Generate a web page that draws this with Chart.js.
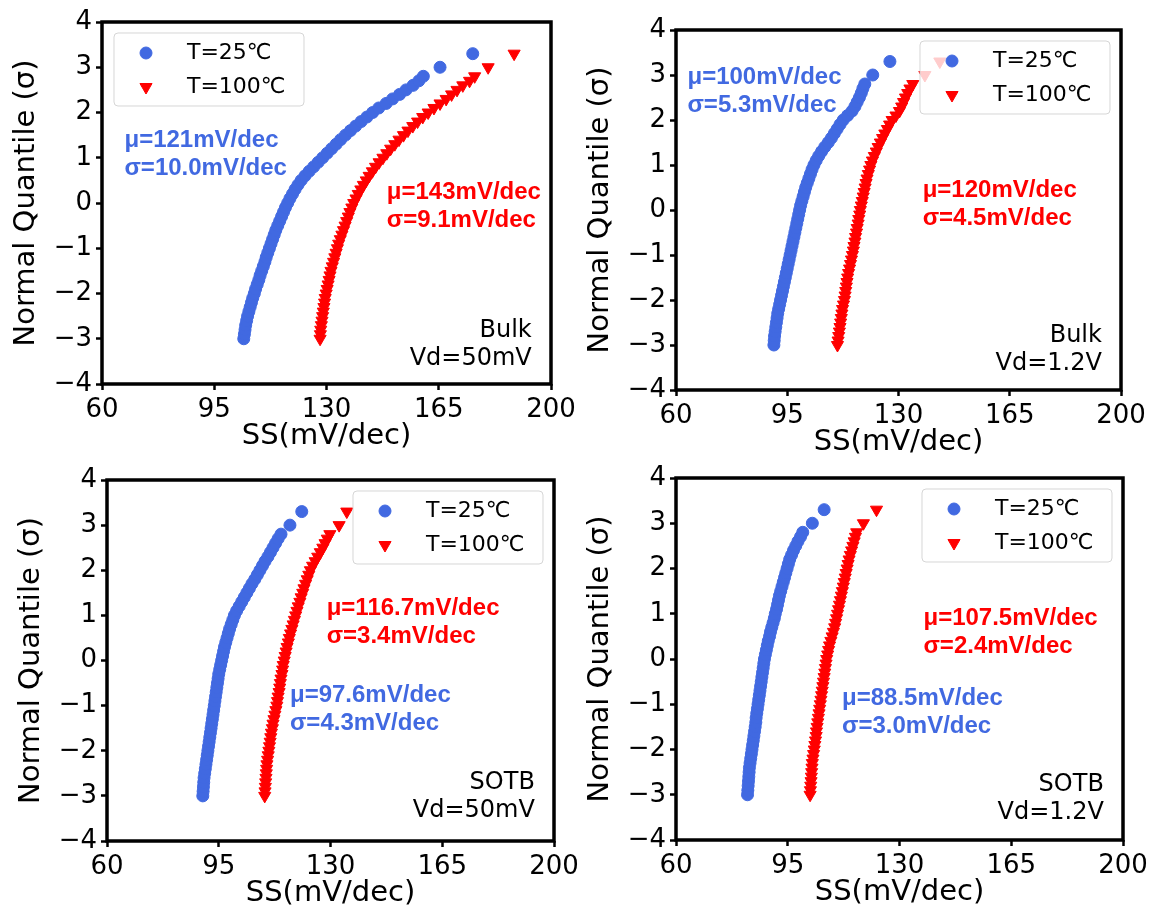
<!DOCTYPE html>
<html>
<head>
<meta charset="utf-8">
<title>SS normal quantile plots</title>
<script src="https://cdn.jsdelivr.net/npm/chart.js@4.4.1/dist/chart.umd.min.js"></script>
<style>
  body { margin: 0; background: #fff; }
  #fig { position: relative; width: 1158px; height: 918px; overflow: hidden; }
  #fig canvas { position: absolute; }
</style>
</head>
<body>
<div id="fig"></div>
<script>
// normal quantile (sigma) of each sorted sample
const quantiles = [
  -3.0, -2.9, -2.8, -2.7, -2.6, -2.5, -2.4, -2.3, -2.2, -2.1,
  -2.0, -1.9, -1.8, -1.7, -1.6, -1.5, -1.4, -1.3, -1.2, -1.1,
  -1.0, -0.9, -0.8, -0.7, -0.6, -0.5, -0.4, -0.3, -0.2, -0.1,
  0.0, 0.1, 0.2, 0.3, 0.4, 0.5, 0.6, 0.7, 0.8, 0.9,
  1.0, 1.1, 1.2, 1.3, 1.4, 1.5, 1.6, 1.7, 1.8, 1.9,
  2.0, 2.1, 2.2, 2.3, 2.4, 2.5, 2.6, 2.7, 2.8,
  3.0, 3.3
];

// SS (mV/dec), Bulk, Vd=50mV
const bulkLowVd25 = [
  104.2, 104.4, 104.6, 104.8, 105.1, 105.4, 105.8, 106.2, 106.6, 107.0,
  107.5, 107.9, 108.4, 108.9, 109.3, 109.8, 110.3, 110.8, 111.2, 111.7,
  112.2, 112.7, 113.2, 113.7, 114.2, 114.8, 115.4, 116.0, 116.6, 117.2,
  117.9, 118.6, 119.4, 120.2, 121.1, 122.1, 123.3, 124.6, 126.0, 127.4,
  128.8, 130.2, 131.6, 133.0, 134.4, 135.9, 137.5, 139.1, 140.8, 142.6,
  144.4, 146.3, 148.6, 150.6, 152.8, 154.8, 157.0, 158.8, 160.2,
  165.4, 175.6
];
const bulkLowVd100 = [
  128.0, 128.1, 128.2, 128.4, 128.6, 128.8, 129.0, 129.2, 129.4, 129.6,
  129.9, 130.2, 130.5, 130.8, 131.1, 131.4, 131.8, 132.2, 132.6, 133.0,
  133.4, 133.8, 134.3, 134.8, 135.3, 135.8, 136.3, 136.8, 137.3, 137.9,
  138.5, 139.2, 139.9, 140.7, 141.5, 142.4, 143.3, 144.3, 145.3, 146.4,
  147.6, 148.8, 150.0, 151.3, 152.6, 154.0, 155.4, 156.9, 158.4, 160.0,
  161.7, 163.5, 165.4, 167.3, 169.0, 170.7, 172.5, 174.6, 176.2,
  180.4, 188.5
];

// Bulk, Vd=1.2V
const bulkHighVd25 = [
  90.8, 90.9, 91.0, 91.2, 91.4, 91.6, 91.8, 92.0, 92.3, 92.6,
  92.9, 93.2, 93.5, 93.8, 94.1, 94.4, 94.7, 95.0, 95.3, 95.6,
  95.9, 96.2, 96.5, 96.8, 97.1, 97.4, 97.7, 98.0, 98.3, 98.6,
  98.9, 99.2, 99.6, 100.0, 100.4, 100.8, 101.3, 101.8, 102.3, 102.8,
  103.4, 104.1, 104.9, 105.8, 106.8, 107.9, 108.9, 109.8, 110.7, 111.6,
  112.6, 114.0, 115.4, 116.3, 117.0, 117.7, 118.3, 118.8, 119.4,
  121.9, 127.3
];
const bulkHighVd100 = [
  110.8, 111.0, 111.2, 111.4, 111.6, 111.8, 112.0, 112.2, 112.4, 112.7,
  113.0, 113.2, 113.4, 113.6, 113.8, 114.0, 114.3, 114.6, 114.9, 115.2,
  115.5, 115.8, 116.0, 116.3, 116.5, 116.8, 117.0, 117.3, 117.5, 117.8,
  118.0, 118.3, 118.6, 118.9, 119.2, 119.5, 119.8, 120.1, 120.5, 120.9,
  121.3, 121.8, 122.4, 123.0, 123.6, 124.3, 125.0, 125.7, 126.5, 127.2,
  128.0, 129.2, 130.3, 131.0, 131.6, 132.2, 132.9, 133.6, 134.5,
  138.3, 143.0
];

// SOTB, Vd=50mV
const sotbLowVd25 = [
  90.0, 90.1, 90.2, 90.3, 90.4, 90.6, 90.8, 91.0, 91.2, 91.4,
  91.6, 91.8, 92.0, 92.2, 92.4, 92.6, 92.8, 93.0, 93.2, 93.4,
  93.6, 93.8, 94.0, 94.2, 94.4, 94.6, 94.8, 95.0, 95.3, 95.6,
  95.9, 96.2, 96.5, 96.8, 97.2, 97.6, 98.0, 98.4, 98.9, 99.4,
  99.9, 100.6, 101.4, 102.2, 103.0, 103.8, 104.6, 105.4, 106.3, 107.1,
  107.9, 108.7, 109.5, 110.4, 111.2, 112.0, 112.8, 113.6, 114.5,
  117.3, 121.0
];
const sotbLowVd100 = [
  109.4, 109.5, 109.6, 109.7, 109.8, 109.9, 110.0, 110.1, 110.3, 110.5,
  110.7, 110.9, 111.1, 111.3, 111.5, 111.8, 112.0, 112.3, 112.6, 112.9,
  113.2, 113.4, 113.6, 113.9, 114.1, 114.3, 114.5, 114.8, 115.0, 115.2,
  115.5, 115.8, 116.1, 116.4, 116.8, 117.1, 117.5, 117.9, 118.3, 118.7,
  119.1, 119.5, 119.9, 120.4, 120.8, 121.3, 121.7, 122.2, 122.7, 123.2,
  123.7, 124.4, 125.2, 126.0, 126.8, 127.6, 128.3, 129.0, 129.8,
  132.7, 135.1
];

// SOTB, Vd=1.2V
const sotbHighVd25 = [
  82.4, 82.5, 82.6, 82.7, 82.8, 82.9, 83.0, 83.2, 83.4, 83.6,
  83.8, 84.0, 84.2, 84.4, 84.6, 84.8, 85.0, 85.1, 85.3, 85.5,
  85.7, 85.9, 86.1, 86.3, 86.5, 86.7, 86.9, 87.1, 87.3, 87.5,
  87.7, 88.0, 88.3, 88.6, 88.9, 89.3, 89.6, 90.0, 90.4, 90.8,
  91.1, 91.5, 91.8, 92.1, 92.4, 92.8, 93.2, 93.6, 94.0, 94.4,
  94.8, 95.2, 95.6, 96.2, 96.8, 97.5, 98.2, 99.0, 99.7,
  102.7, 106.4
];
const sotbHighVd100 = [
  102.0, 102.1, 102.2, 102.3, 102.4, 102.5, 102.6, 102.7, 102.9, 103.1,
  103.3, 103.5, 103.7, 103.9, 104.0, 104.2, 104.4, 104.6, 104.8, 105.0,
  105.2, 105.4, 105.6, 105.8, 106.0, 106.2, 106.4, 106.6, 106.8, 107.0,
  107.2, 107.5, 107.8, 108.1, 108.5, 108.9, 109.3, 109.7, 110.0, 110.3,
  110.6, 110.9, 111.2, 111.5, 111.8, 112.1, 112.4, 112.7, 113.0, 113.3,
  113.6, 113.9, 114.2, 114.6, 115.0, 115.4, 115.8, 116.2, 116.6,
  118.7, 122.8
];

const seriesLabels = ['T=25\u2103', 'T=100\u2103'];
const xTicks = [60, 95, 130, 165, 200];
const yTicks = [-4, -3, -2, -1, 0, 1, 2, 3, 4];

const BLUE = '#4169e1';
const RED = '#ff0000';

// axis box sizes around each plot area (px)
const AXIS_W = 100, AXIS_H = 80, PAD_T = 22, PAD_R = 30;

const panels = [
  {
    area: { left: 102, top: 22, right: 551, bottom: 384 },
    blue: bulkLowVd25, red: bulkLowVd100, legend: 'left',
    notes: [
      { lines: ['\u03bc=121mV/dec', '\u03c3=10.0mV/dec'], color: BLUE, bold: true, x: 67, y: 1.38 },
      { lines: ['\u03bc=143mV/dec', '\u03c3=9.1mV/dec'], color: RED, bold: true, x: 148.8, y: 0.23 },
      { lines: ['Bulk', 'Vd=50mV'], color: '#000', align: 'right', x: 194, y: -2.82 }
    ]
  },
  {
    area: { left: 676, top: 29.5, right: 1121, bottom: 389.5 },
    blue: bulkHighVd25, red: bulkHighVd100, legend: 'right',
    notes: [
      { lines: ['\u03bc=100mV/dec', '\u03c3=5.3mV/dec'], color: BLUE, bold: true, x: 63.6, y: 2.95 },
      { lines: ['\u03bc=120mV/dec', '\u03c3=4.5mV/dec'], color: RED, bold: true, x: 137.6, y: 0.43 },
      { lines: ['Bulk', 'Vd=1.2V'], color: '#000', align: 'right', x: 194, y: -2.8 }
    ]
  },
  {
    area: { left: 107, top: 479.5, right: 554, bottom: 840 },
    blue: sotbLowVd25, red: sotbLowVd100, legend: 'right',
    notes: [
      { lines: ['\u03bc=116.7mV/dec', '\u03c3=3.4mV/dec'], color: RED, bold: true, x: 128.8, y: 1.16 },
      { lines: ['\u03bc=97.6mV/dec', '\u03c3=4.3mV/dec'], color: BLUE, bold: true, x: 117.3, y: -0.78 },
      { lines: ['SOTB', 'Vd=50mV'], color: '#000', align: 'right', x: 194, y: -2.71 }
    ]
  },
  {
    area: { left: 676, top: 477.5, right: 1123, bottom: 839.5 },
    blue: sotbHighVd25, red: sotbHighVd100, legend: 'right',
    notes: [
      { lines: ['\u03bc=107.5mV/dec', '\u03c3=2.4mV/dec'], color: RED, bold: true, x: 137.5, y: 0.89 },
      { lines: ['\u03bc=88.5mV/dec', '\u03c3=3.0mV/dec'], color: BLUE, bold: true, x: 112, y: -0.86 },
      { lines: ['SOTB', 'Vd=1.2V'], color: '#000', align: 'right', x: 194, y: -2.78 }
    ]
  }
];

const tickFont = { family: 'DejaVu Sans', size: 26, lineHeight: 1.2 };
const titleFont = { family: 'DejaVu Sans', size: 29, lineHeight: 1 };

function toPoints(values) {
  return values.map((v, i) => ({ x: v, y: quantiles[i] }));
}

function minusSign(v) {
  return v < 0 ? '\u2212' + Math.abs(v) : String(v);
}

// frame, text notes and an in-axes legend
function decorations(panel) {
  return {
    id: 'decorations',
    afterDatasetsDraw(chart) {
      const { ctx, chartArea: a, scales } = chart;
      ctx.save();

      ctx.lineWidth = 3.5;
      ctx.strokeStyle = '#000';
      ctx.strokeRect(a.left, a.top, a.right - a.left, a.bottom - a.top);

      ctx.textBaseline = 'middle';
      panel.notes.forEach(n => {
        ctx.font = n.bold ? 'bold 24px "Liberation Sans", Arial, sans-serif' : '24px "DejaVu Sans"';
        ctx.fillStyle = n.color;
        ctx.textAlign = n.align || 'left';
        const px = scales.x.getPixelForValue(n.x);
        const py = scales.y.getPixelForValue(n.y);
        n.lines.forEach((t, i) => ctx.fillText(t, px, py + i * 28));
      });

      const w = 190, h = 73;
      const bx = panel.legend === 'left' ? a.left + 12 : a.right - 11 - w;
      const by = a.top + 11;
      ctx.beginPath();
      ctx.roundRect(bx, by, w, h, 4);
      ctx.fillStyle = 'rgba(255,255,255,0.8)';
      ctx.fill();
      ctx.lineWidth = 1;
      ctx.strokeStyle = 'rgba(204,204,204,0.8)';
      ctx.stroke();

      chart.data.datasets.forEach((ds, i) => {
        const cy = by + 20 + i * 34;
        ctx.fillStyle = ds.backgroundColor;
        ctx.strokeStyle = ds.borderColor;
        Chart.helpers.drawPoint(ctx, {
          pointStyle: ds.pointStyle,
          radius: ds.pointRadius,
          rotation: ds.pointRotation,
          borderWidth: ds.pointBorderWidth
        }, bx + 32, cy);
        ctx.fillStyle = '#000';
        ctx.font = '22px "DejaVu Sans"';
        ctx.textAlign = 'left';
        ctx.fillText(ds.label, bx + 73, cy);
      });

      ctx.restore();
    }
  };
}

const fig = document.getElementById('fig');

panels.forEach(panel => {
  const a = panel.area;
  const canvas = document.createElement('canvas');
  const w = Math.round(a.right - a.left + AXIS_W + PAD_R);
  const h = Math.round(a.bottom - a.top + PAD_T + AXIS_H);
  canvas.width = w;
  canvas.height = h;
  canvas.style.width = w + 'px';
  canvas.style.height = h + 'px';
  canvas.style.left = (a.left - AXIS_W) + 'px';
  canvas.style.top = (a.top - PAD_T) + 'px';
  fig.appendChild(canvas);

  new Chart(canvas.getContext('2d'), {
    type: 'scatter',
    data: {
      datasets: [
        {
          label: seriesLabels[0],
          data: toPoints(panel.blue),
          pointStyle: 'circle',
          pointRadius: 6,
          pointRotation: 0,
          pointBorderWidth: 1,
          backgroundColor: BLUE,
          borderColor: BLUE
        },
        {
          label: seriesLabels[1],
          data: toPoints(panel.red),
          pointStyle: 'triangle',
          pointRadius: 7,
          pointRotation: 180,
          pointBorderWidth: 1,
          backgroundColor: RED,
          borderColor: RED
        }
      ]
    },
    options: {
      responsive: false,
      animation: false,
      devicePixelRatio: 1,
      events: [],
      layout: { padding: { top: PAD_T, right: PAD_R, left: 0, bottom: 0 } },
      plugins: { legend: { display: false }, tooltip: { enabled: false } },
      scales: {
        x: {
          type: 'linear',
          min: 60,
          max: 200,
          afterBuildTicks: s => { s.ticks = xTicks.map(v => ({ value: v })); },
          afterFit: s => { s.height = AXIS_H; },
          ticks: { font: tickFont, color: '#000', padding: 5, maxRotation: 0, autoSkip: false },
          grid: { drawOnChartArea: false, tickLength: 6, tickWidth: 2.5, tickColor: '#000' },
          border: { display: false },
          title: { display: true, text: 'SS(mV/dec)', font: titleFont, color: '#000', padding: { top: 0, bottom: 13 } }
        },
        y: {
          type: 'linear',
          min: -4,
          max: 4,
          afterBuildTicks: s => { s.ticks = yTicks.map(v => ({ value: v })); },
          afterFit: s => { s.width = AXIS_W; },
          ticks: { font: tickFont, color: '#000', padding: 4, autoSkip: false, callback: minusSign },
          grid: { drawOnChartArea: false, tickLength: 6, tickWidth: 2.5, tickColor: '#000' },
          border: { display: false },
          title: { display: true, text: 'Normal Quantile (\u03c3)', font: titleFont, color: '#000', padding: { top: 10, bottom: 0 } }
        }
      }
    },
    plugins: [decorations(panel)]
  });
});
</script>
</body>
</html>
